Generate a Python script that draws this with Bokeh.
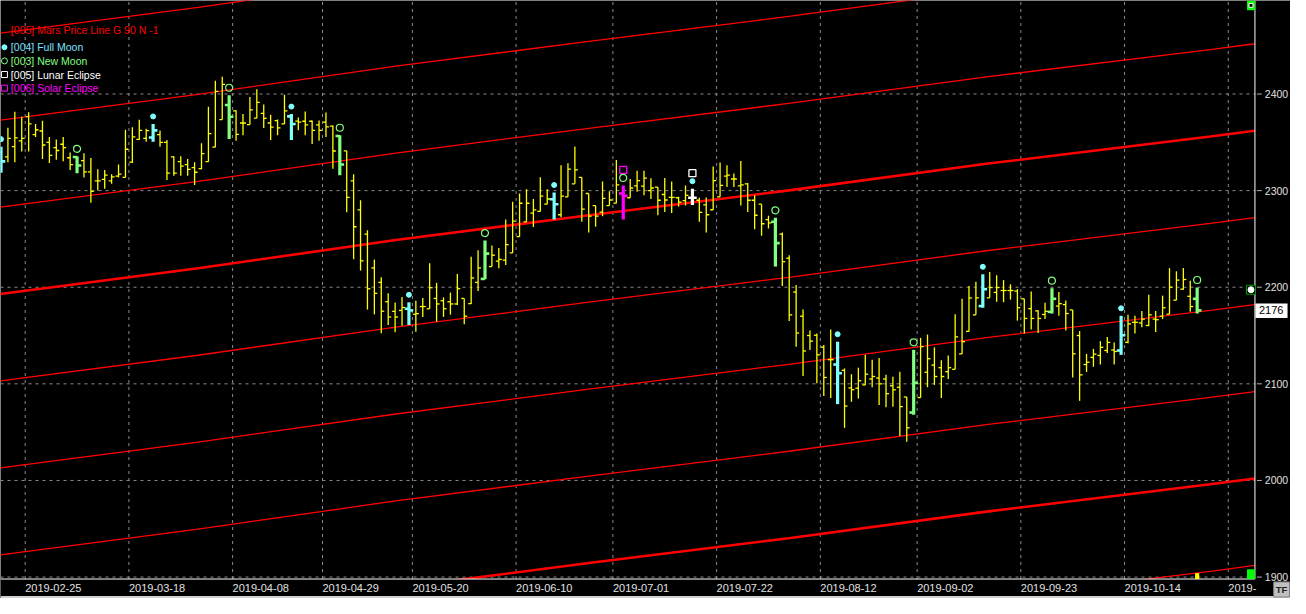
from bokeh.plotting import figure
from bokeh.models import Range1d
from bokeh.embed import file_html
from bokeh.resources import INLINE
from bokeh.core.properties import value

# ---------------- data ----------------
opens = [2340, 2335, 2345.5, 2351.5, 2376.5, 2358, 2361.7, 2350, 2344.5, 2348,
         2334, 2334.8, 2331, 2319.3, 2310, 2311.6, 2310, 2315, 2313.6, 2329.4,
         2353, 2354, 2355, 2358, 2350, 2335, 2330, 2327, 2323.7, 2322.7,
         2330, 2345, 2373.5, 2388.6, 2382.5, 2370, 2368.4, 2375, 2380, 2370,
         2372.5, 2369, 2376.8, 2372, 2371.8, 2371.8, 2368, 2370.8, 2366.7, 2356.6,
         2341.2, 2310, 2280, 2255, 2220, 2205, 2185, 2175, 2176, 2177.7,
         2172, 2180, 2177.7, 2188.4, 2186, 2185, 2182.7, 2188.4, 2183, 2205,
         2208.6, 2221.4, 2227, 2228, 2235.5, 2252.3, 2267.7, 2276.8, 2278.5, 2286,
         2291, 2275, 2293.6, 2307, 2313.8, 2297, 2284.5, 2277.8, 2284.5, 2287,
         2297, 2292.6, 2305, 2304.7, 2300, 2303.7, 2296, 2293, 2292.6, 2289.6,
         2292.6, 2290, 2285.2, 2280.2, 2293.6, 2315, 2312, 2305, 2307, 2290,
         2286, 2270, 2267.7, 2255, 2230, 2195, 2170, 2150, 2150.3, 2138,
         2125, 2120, 2114, 2095.8, 2095.5, 2098.9, 2105, 2106, 2105, 2098,
         2096.5, 2086.4, 2070.3, 2085.8, 2112, 2119.4, 2116.7, 2112.6, 2115, 2131,
         2154.3, 2171.4, 2180.5, 2189, 2194.6, 2196.6, 2196.6, 2196, 2188, 2177.8,
         2175.5, 2171.8, 2174.5, 2180.5, 2182, 2176.5, 2150, 2120, 2127.4, 2129.4,
         2134.5, 2135, 2134.5, 2143, 2163.7, 2163, 2160.4, 2167, 2170, 2172.1,
         2186.6, 2198, 2190.6, 2188]
highs = [2345.5, 2365, 2381.5, 2376.5, 2381, 2369, 2372.4, 2355.6, 2353, 2355.6,
         2339.5, 2335.5, 2338.8, 2333.8, 2322, 2321.3, 2317, 2327, 2363, 2365.7,
         2373.4, 2364, 2369, 2362.3, 2352.3, 2335.5, 2335.5, 2332.8, 2329.4, 2348.9,
         2386.9, 2413.8, 2417.8, 2398.7, 2383.2, 2379.2, 2397, 2405, 2389.2, 2378.5,
         2373.5, 2399.3, 2379.2, 2375.8, 2381.9, 2372.5, 2372.5, 2380.8, 2367.4, 2357.3,
         2341.2, 2317, 2290, 2258.9, 2228.6, 2210.2, 2193.7, 2184.3, 2190, 2184.4,
         2186, 2188.8, 2224.7, 2204.6, 2189.5, 2194.5, 2213.6, 2188.4, 2231.5, 2238.2,
         2248.3, 2243.2, 2240.5, 2270, 2288.6, 2297, 2301.3, 2291.3, 2313.8, 2301.3,
         2298, 2326.2, 2328.2, 2345.7, 2313.8, 2297, 2284.5, 2309.4, 2299.3, 2331.6,
         2305.4, 2312, 2320.5, 2320.5, 2312.8, 2303.7, 2313, 2309.4, 2293.6, 2305.4,
         2302, 2292.6, 2293, 2325, 2329, 2326.2, 2317.8, 2330.6, 2308, 2295.3,
         2286, 2274, 2271.8, 2256.7, 2233, 2202.4, 2177, 2155.3, 2152, 2140.2,
         2156.3, 2143.6, 2116, 2110, 2116.7, 2130, 2125, 2126.8, 2109.3, 2107.3,
         2112.6, 2086.4, 2135.2, 2147.6, 2151, 2137.8, 2124.4, 2129.4, 2172, 2188,
         2201.3, 2205.7, 2213.4, 2215.8, 2212.4, 2207.4, 2203, 2198, 2188, 2195.6,
         2176.1, 2183.9, 2199, 2195, 2186.2, 2176.5, 2154.6, 2131, 2136.2, 2144.2,
         2148.6, 2142.9, 2170.4, 2171.4, 2170.4, 2175.5, 2192.3, 2175.5, 2191.3, 2219.8,
         2216.5, 2219.8, 2206.7, 2199.7]
lows = [2318.6, 2329.4, 2329.4, 2340.5, 2340.5, 2355.6, 2332.8, 2328.7, 2332, 2330.4,
        2321.4, 2318, 2313.6, 2287.4, 2300, 2301.9, 2307, 2313.6, 2313.6, 2328.7,
        2352.3, 2350.6, 2350.6, 2345.5, 2311, 2315.3, 2315.3, 2315.3, 2305.9, 2322,
        2329.8, 2344.9, 2373.5, 2353.3, 2351.6, 2357.3, 2368.4, 2375, 2364.7, 2352.3,
        2357.3, 2369, 2352.3, 2362.4, 2357.3, 2348.3, 2351.6, 2355.6, 2322.7, 2316,
        2277.7, 2229, 2217.2, 2176.9, 2171.9, 2152.4, 2160.8, 2153.4, 2160, 2160.9,
        2154, 2169.3, 2177.7, 2164.3, 2169.3, 2171.6, 2181.7, 2161.6, 2182.7, 2196.2,
        2208.3, 2221.4, 2219.7, 2223, 2235.5, 2252.3, 2267.7, 2262.4, 2278.5, 2285.9,
        2270, 2272.5, 2293.6, 2307, 2267.7, 2256.7, 2262.7, 2273.5, 2284.5, 2287,
        2270, 2292.6, 2298.7, 2295.3, 2291.3, 2274.5, 2277.8, 2276.8, 2283.5, 2284.5,
        2285.2, 2267.7, 2256.7, 2280.2, 2293.6, 2303.7, 2303.7, 2284.5, 2277.8, 2260,
        2253.3, 2260.7, 2221.4, 2201.2, 2165, 2138.5, 2108, 2135, 2100.5, 2087.4,
        2085.4, 2079, 2054.5, 2081.4, 2084.8, 2098.9, 2096.5, 2078, 2075.7, 2076.4,
        2046, 2040, 2068, 2085.8, 2096.5, 2098.9, 2085.4, 2105, 2115, 2131,
        2154.3, 2171.4, 2178.8, 2189, 2184.9, 2184.5, 2187.2, 2165.4, 2152, 2156.3,
        2152.6, 2167, 2172.8, 2170.4, 2155.3, 2106.6, 2082.4, 2112.3, 2117.7, 2120,
        2131.8, 2120, 2130, 2141.9, 2152, 2158.7, 2159.7, 2153.6, 2167, 2172.1,
        2186.6, 2197.3, 2174.5, 2172.8]
closes = [2330.3, 2354, 2354.6, 2354, 2369, 2363, 2347.2, 2336.5, 2341.5, 2344.5,
          2327, 2326, 2319.4, 2299.2, 2310, 2316, 2314.3, 2317, 2342.8, 2355.6,
          2362.4, 2362, 2362.4, 2350, 2318, 2318, 2325.4, 2322, 2319, 2338.2,
          2359, 2402.7, 2410, 2376.5, 2358.3, 2370, 2383.5, 2391.3, 2374.8, 2365.7,
          2365, 2382.5, 2369, 2370.8, 2368, 2362.4, 2362.4, 2366, 2341, 2327,
          2292.9, 2262.6, 2227.3, 2198.4, 2193.7, 2175.2, 2169.2, 2169.2, 2179, 2176,
          2172.7, 2180, 2199.5, 2182.7, 2177.7, 2182.7, 2198.5, 2170, 2209.6, 2220,
          2234.8, 2233.1, 2228.8, 2244, 2268.4, 2286.9, 2286.9, 2280, 2294.3, 2291.3,
          2285.9, 2294.3, 2322.2, 2321.5, 2280.8, 2273.5, 2273.5, 2292, 2290.3, 2306,
          2294.6, 2302.7, 2310.4, 2313, 2302.7, 2290, 2290.3, 2293, 2288, 2295,
          2292.6, 2277.5, 2275, 2310.4, 2305.4, 2316, 2312, 2306, 2290, 2274.5,
          2265.7, 2266.7, 2245.6, 2226.4, 2171.4, 2152.6, 2134, 2144.2, 2130, 2106.6,
          2125, 2111, 2077, 2094, 2103.2, 2110, 2107.6, 2100, 2089.8, 2093.8,
          2076.4, 2054.5, 2101, 2138.5, 2126, 2107.6, 2107.6, 2116.7, 2148.6, 2143.6,
          2188.9, 2189, 2198, 2199.7, 2199.7, 2196.6, 2196.6, 2178.8, 2167.7, 2167.7,
          2167.7, 2175, 2188, 2183, 2172.8, 2131.1, 2109.3, 2122.4, 2130.8, 2137.8,
          2142.9, 2133.5, 2150.3, 2162, 2163.7, 2167, 2171.4, 2166.4, 2178.8, 2200,
          2207.4, 2208, 2180, 2176]

full_moon = [0, 22, 42, 59, 80, 100, 121, 142, 162]
new_moon = [11, 33, 49, 70, 90, 112, 132, 152, 173]
lunar_eclipse = [100]
solar_eclipse = [90]

tick_bars = [4, 19, 34, 47, 60, 75, 89, 104, 119, 133, 148, 163, 178]
tick_labels = ["2019-02-25", "2019-03-18", "2019-04-08", "2019-04-29", "2019-05-20",
               "2019-06-10", "2019-07-01", "2019-07-22", "2019-08-12", "2019-09-02",
               "2019-09-23", "2019-10-14", "2019-"]
price_ticks = [1900, 2000, 2100, 2200, 2300, 2400]

mars_idx = [-0.07, 28.5, 57.1, 85.6, 114.2, 142.8, 174.9, 181.35]
mars_base = [2193, 2219.6, 2248.8, 2275, 2300.5, 2328, 2356, 2362]
mars_harmonics = [-5, -4, -3, -2, -1, 0, 1, 2, 3]
mars_step = 90

last_price = 2176
legend_labels = ["[005] Mars Price Line G 90 N -1", "[004] Full Moon", "[003] New Moon",
                 "[005] Lunar Eclipse", "[006] Solar Eclipse"]

# ---------------- layout helpers (reference pixel -> data) ----------------
def RX(px):
    return (px - 0.5) / 7.0

def RY(py):
    return 2400 - (py - 96) / 0.992

YELLOW = "#FFFF00"
CYAN = "#80FFFF"
GREEN = "#80FF80"
WHITE = "#FFFFFF"
MAGENTA = "#FF00FF"
RED = "#FF0000"
GRID = "#8C8C8C"
LABEL = "#E0E0E0"
FONT = "Liberation Sans"

XL, XR = RX(0), RX(1306)
YB, YT = RY(614), RY(0)
PXR = RX(1270)      # right edge of the price pane
PYB = RY(594)       # bottom edge of the price pane
FH = 598.0
uy = FH / (YT - YB)   # screen px per price unit

p = figure(width=1290, height=598, x_range=Range1d(XL, XR), y_range=Range1d(YB, YT),
           x_axis_type=None, y_axis_type=None,
           output_backend="svg", toolbar_location=None,
           min_border_left=0, min_border_right=0, min_border_top=0, min_border_bottom=0)
p.background_fill_color = "black"
p.border_fill_color = "black"
p.outline_line_color = None
p.grid.visible = False

# grid lines (dashed) inside the price pane
gx = [k - 0.5 for k in tick_bars]
for g in gx:
    p.line([g, g], [PYB, YT], line_color=GRID, line_width=1, line_dash="3 4")
for v in price_ticks:
    p.line([XL, PXR], [v, v], line_color=GRID, line_width=1, line_dash="3 4")

# Mars price lines
for h in mars_harmonics:
    ys = [b + h * mars_step for b in mars_base]
    p.line(mars_idx, ys, line_color=RED, line_width=2.6 if h % 4 == 0 else 1.3)

# bars
special = {}
for k in full_moon:
    special[k] = CYAN
for k in new_moon:
    special[k] = GREEN
for k in lunar_eclipse:
    special[k] = WHITE
for k in solar_eclipse:
    special[k] = MAGENTA

n = len(closes)
normal = [k for k in range(n) if k not in special]
t = 0.43
lw = 1.3
p.segment(x0=normal, x1=normal, y0=[lows[k] for k in normal], y1=[highs[k] for k in normal],
          line_color=YELLOW, line_width=lw)
p.segment(x0=[k - t for k in normal], x1=normal, y0=[opens[k] for k in normal],
          y1=[opens[k] for k in normal], line_color=YELLOW, line_width=lw)
p.segment(x0=normal, x1=[k + t for k in normal], y0=[closes[k] for k in normal],
          y1=[closes[k] for k in normal], line_color=YELLOW, line_width=lw)

for color in (CYAN, GREEN, WHITE, MAGENTA):
    ks = [k for k in range(n) if special.get(k) == color]
    tt = 0.62
    p.segment(x0=ks, x1=ks, y0=[lows[k] for k in ks], y1=[highs[k] for k in ks],
              line_color=color, line_width=3.2)
    p.segment(x0=[k - tt for k in ks], x1=ks, y0=[opens[k] for k in ks],
              y1=[opens[k] for k in ks], line_color=color, line_width=2.6)
    p.segment(x0=ks, x1=[k + tt for k in ks], y0=[closes[k] for k in ks],
              y1=[closes[k] for k in ks], line_color=color, line_width=2.6)

# event markers above the bars
off1 = 7.5 / uy
off2 = 15.5 / uy
p.scatter(full_moon, [highs[k] + off1 for k in full_moon], marker="circle",
          size=5, fill_color=CYAN, line_color=CYAN)
p.scatter(new_moon, [highs[k] + off1 for k in new_moon], marker="circle",
          size=7, fill_color=None, line_color=GREEN, line_width=1.2)
p.scatter(lunar_eclipse, [highs[k] + off2 for k in lunar_eclipse], marker="square",
          size=7, fill_color=None, line_color=WHITE, line_width=1.3)
p.scatter(solar_eclipse, [highs[k] + off2 for k in solar_eclipse], marker="square",
          size=7, fill_color=None, line_color=MAGENTA, line_width=1.3)

# legend (top-left)
leg_colors = [RED, "#7FE0FF", GREEN, WHITE, MAGENTA]
leg_y = [30, 48, 62, 76, 90]
for lab, c, yy in zip(legend_labels, leg_colors, leg_y):
    p.text(x=[RX(10.5)], y=[RY(yy)], text=[lab], text_color=c, text_font=value(FONT),
           text_font_size="10.5px", text_baseline="middle", text_align="left")
p.scatter([RX(4)], [RY(48)], marker="circle", size=5, fill_color=CYAN, line_color=CYAN)
p.scatter([RX(4)], [RY(62)], marker="circle", size=6, fill_color=None, line_color=GREEN)
p.scatter([RX(4)], [RY(76)], marker="square", size=6, fill_color=None, line_color=WHITE)
p.scatter([RX(4)], [RY(90)], marker="square", size=6, fill_color=None, line_color=MAGENTA)

# mask the date-axis band so the price lines stop at the pane
p.quad(left=[XL], right=[XR], top=[PYB], bottom=[YB], fill_color="black", line_color=None)

# axis lines
p.line([PXR, PXR], [PYB, YT], line_color=WHITE, line_width=1)
p.line([XL, PXR], [PYB, PYB], line_color=WHITE, line_width=1)

# x axis labels (left aligned at the grid lines)
p.text(x=gx, y=[RY(603)] * len(gx), text=tick_labels, text_color=LABEL,
       text_font=value(FONT), text_font_size="11px", text_baseline="middle", text_align="left")

# y axis ticks + labels on the right
p.segment(x0=[RX(1272)] * len(price_ticks), x1=[RX(1277)] * len(price_ticks),
          y0=price_ticks, y1=price_ticks, line_color="#B0B0B0", line_width=1)
p.text(x=[RX(1280)] * len(price_ticks), y=price_ticks, text=[str(v) for v in price_ticks],
       text_color=LABEL, text_font=value(FONT), text_font_size="10.5px",
       text_baseline="middle", text_align="left")

# last price box
p.quad(left=[RX(1270.5)], right=[RX(1303)], top=[RY(311)], bottom=[RY(326)],
       fill_color=WHITE, line_color=None)
p.text(x=[RX(1286.5)], y=[last_price], text=[str(last_price)], text_color="black",
       text_font=value(FONT), text_font_size="11px", text_baseline="middle", text_align="center")

# TF box + bottom strip
p.quad(left=[XL], right=[XR], top=[RY(611.5)], bottom=[YB], fill_color="#D0D0D0", line_color=None)
p.quad(left=[RX(1289)], right=[RX(1305)], top=[RY(597)], bottom=[RY(612.5)],
       fill_color="#C0C0C0", line_color="#808080", line_width=1)
p.text(x=[RX(1297)], y=[RY(605)], text=["TF"], text_color="#202020", text_font=value(FONT),
       text_font_size="9.5px", text_font_style="bold", text_baseline="middle", text_align="center")

# scroll indicators / widgets at the right edge of the pane
p.quad(left=[RX(1262)], right=[RX(1270)], top=[YT], bottom=[RY(10)], fill_color="#00FF00", line_color=None)
p.quad(left=[RX(1264)], right=[RX(1268)], top=[RY(3)], bottom=[RY(7)],
       fill_color="black", line_color=WHITE, line_width=1)
p.quad(left=[RX(1262)], right=[RX(1270)], top=[RY(584)], bottom=[PYB], fill_color="#00FF00", line_color=None)
p.scatter([RX(1266)], [RY(297)], marker="square", size=9, fill_color="black", line_color="#00A000")
p.scatter([RX(1266)], [RY(297)], marker="circle", size=6, fill_color=WHITE, line_color=WHITE)
last = n - 1
p.quad(left=[last - 0.3], right=[last + 0.3], top=[RY(588)], bottom=[PYB],
       fill_color=YELLOW, line_color=None)

open("out.html", "w").write(file_html(p, INLINE))
